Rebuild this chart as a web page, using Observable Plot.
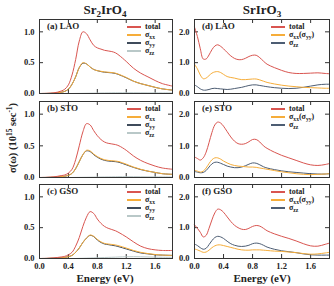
<!DOCTYPE html>
<html><head><meta charset="utf-8">
<script src="https://cdn.jsdelivr.net/npm/d3@7"></script>
<script src="https://cdn.jsdelivr.net/npm/@observablehq/plot@0.6"></script>
<style>
body{margin:0;background:#fff}
#root{position:relative;width:334px;height:286px;overflow:hidden;font-family:"Liberation Serif",serif;color:#222}
.t{position:absolute;white-space:nowrap;font-weight:bold;line-height:1}
.lg{position:absolute;font-weight:bold;font-size:8px;line-height:8px;color:#222}
.lg .row{display:flex;align-items:center;height:8px;white-space:nowrap}
.lg .sw{display:inline-block;height:1.4px;margin-right:4px}
sub{font-size:70%;vertical-align:-0.3em;line-height:0}
sup{font-size:70%;vertical-align:0.45em;line-height:0}
</style></head><body><div id="root"></div><script>
// ---------- data ----------
const energyL = [0,0.1,0.2,0.3,0.35,0.4,0.45,0.5,0.55,0.6,0.65,0.7,0.75,0.8,0.85,0.9,0.95,1.0,1.05,1.1,1.2,1.3,1.4,1.5,1.6,1.7,1.84];
// (a) Sr2IrO4 / LAO
const aTotal = [0,0.003,0.01,0.04,0.07,0.14,0.3,0.55,0.85,1.0,0.97,0.87,0.78,0.74,0.72,0.7,0.69,0.68,0.66,0.62,0.52,0.41,0.33,0.27,0.21,0.16,0.12];
const aXX    = [0,0.001,0.005,0.02,0.035,0.07,0.15,0.27,0.42,0.5,0.48,0.43,0.39,0.37,0.36,0.35,0.345,0.34,0.33,0.31,0.26,0.2,0.16,0.13,0.1,0.075,0.055];
const aYY    = [0,0.001,0.005,0.02,0.035,0.07,0.15,0.27,0.42,0.49,0.48,0.43,0.39,0.37,0.355,0.345,0.34,0.335,0.325,0.305,0.255,0.2,0.16,0.13,0.1,0.075,0.055];
const aZZ    = [0,0,0,0,0,0,0,0.001,0.002,0.003,0.004,0.005,0.006,0.007,0.008,0.009,0.01,0.011,0.012,0.012,0.012,0.012,0.011,0.01,0.01,0.01,0.01];
// (b) Sr2IrO4 / STO
const bTotal = [0,0.003,0.01,0.03,0.04,0.07,0.13,0.28,0.5,0.72,0.85,0.83,0.74,0.66,0.6,0.56,0.54,0.53,0.52,0.5,0.43,0.34,0.27,0.22,0.18,0.15,0.13];
const bXX    = [0,0.001,0.005,0.015,0.02,0.035,0.065,0.14,0.25,0.36,0.43,0.42,0.37,0.33,0.3,0.28,0.27,0.265,0.26,0.25,0.21,0.165,0.13,0.1,0.08,0.06,0.05];
const bYY    = [0,0.001,0.005,0.015,0.02,0.035,0.065,0.14,0.25,0.36,0.42,0.41,0.36,0.32,0.29,0.27,0.26,0.255,0.25,0.24,0.2,0.16,0.125,0.1,0.08,0.06,0.05];
const bZZ    = [0,0,0,0,0,0,0,0.001,0.002,0.003,0.004,0.005,0.006,0.007,0.008,0.009,0.01,0.011,0.012,0.013,0.013,0.013,0.012,0.011,0.01,0.01,0.01];
// (c) Sr2IrO4 / GSO
const cTotal = [0,0.003,0.01,0.025,0.035,0.06,0.1,0.2,0.34,0.52,0.67,0.76,0.73,0.64,0.57,0.52,0.49,0.47,0.45,0.42,0.35,0.27,0.2,0.16,0.14,0.13,0.13];
const cXX    = [0,0.001,0.005,0.012,0.017,0.03,0.05,0.1,0.17,0.26,0.33,0.38,0.36,0.31,0.27,0.245,0.235,0.228,0.22,0.205,0.17,0.13,0.1,0.08,0.065,0.055,0.05];
const cYY    = [0,0.001,0.005,0.012,0.017,0.03,0.05,0.1,0.17,0.26,0.33,0.375,0.355,0.3,0.26,0.235,0.225,0.215,0.205,0.19,0.155,0.12,0.09,0.075,0.06,0.055,0.05];
const cZZ    = [0,0,0,0,0,0,0,0,0.002,0.004,0.006,0.008,0.01,0.012,0.014,0.016,0.018,0.02,0.022,0.025,0.028,0.03,0.028,0.025,0.022,0.02,0.02];

const energyR = [0,0.04,0.08,0.12,0.16,0.2,0.24,0.28,0.32,0.36,0.4,0.45,0.5,0.55,0.6,0.65,0.7,0.75,0.8,0.85,0.9,0.95,1.0,1.1,1.2,1.3,1.4,1.5,1.6,1.7,1.8,1.86];
// (d) SrIrO3 / LAO
const dTotal = [2.15,1.85,1.45,1.12,1.12,1.25,1.42,1.54,1.58,1.53,1.45,1.33,1.22,1.14,1.1,1.1,1.14,1.2,1.24,1.24,1.16,1.05,0.95,0.84,0.75,0.68,0.65,0.65,0.66,0.67,0.65,0.64];
const dXX    = [0.95,0.8,0.6,0.48,0.5,0.58,0.66,0.7,0.71,0.68,0.62,0.55,0.52,0.5,0.47,0.45,0.45,0.46,0.47,0.47,0.44,0.4,0.36,0.31,0.27,0.24,0.22,0.2,0.19,0.18,0.17,0.17];
const dZZ    = [0.28,0.22,0.15,0.11,0.11,0.13,0.16,0.17,0.16,0.15,0.14,0.13,0.14,0.16,0.18,0.2,0.23,0.26,0.28,0.28,0.26,0.24,0.22,0.19,0.17,0.16,0.17,0.2,0.24,0.28,0.3,0.3];
// (e) SrIrO3 / STO
const eTotal = [0.65,0.6,0.55,0.62,0.8,1.1,1.42,1.66,1.75,1.72,1.62,1.45,1.28,1.15,1.07,1.05,1.07,1.13,1.2,1.2,1.12,1.0,0.92,0.8,0.7,0.62,0.54,0.46,0.4,0.38,0.41,0.44];
const eXX    = [0.23,0.2,0.17,0.2,0.3,0.44,0.56,0.62,0.62,0.58,0.52,0.46,0.41,0.38,0.36,0.35,0.34,0.33,0.33,0.32,0.3,0.28,0.26,0.22,0.18,0.15,0.12,0.1,0.09,0.1,0.11,0.12];
const eZZ    = [0.19,0.17,0.15,0.16,0.22,0.33,0.43,0.48,0.48,0.45,0.41,0.36,0.33,0.31,0.31,0.33,0.37,0.42,0.46,0.45,0.4,0.34,0.3,0.25,0.21,0.18,0.16,0.14,0.12,0.11,0.11,0.12];
// (f) SrIrO3 / GSO
const fTotal = [1.09,0.98,0.85,0.7,0.75,0.98,1.25,1.48,1.6,1.58,1.5,1.35,1.2,1.08,1.0,0.95,0.94,0.98,1.04,1.07,1.05,0.98,0.9,0.8,0.72,0.65,0.57,0.48,0.41,0.4,0.46,0.5];
const fXX    = [0.31,0.28,0.24,0.2,0.21,0.27,0.35,0.41,0.44,0.44,0.42,0.39,0.36,0.33,0.3,0.28,0.27,0.27,0.28,0.28,0.28,0.27,0.26,0.24,0.23,0.21,0.19,0.16,0.14,0.15,0.18,0.2];
const fZZ    = [0.47,0.42,0.35,0.3,0.33,0.45,0.58,0.68,0.72,0.7,0.65,0.56,0.48,0.43,0.4,0.39,0.4,0.43,0.48,0.5,0.48,0.43,0.37,0.3,0.25,0.22,0.19,0.15,0.12,0.11,0.11,0.11];

const xTicks = [0.4,0.8,1.2,1.6];
const xLabelTicks = [0,0.4,0.8,1.2,1.6];
const yTicksL = [0,0.5,1.0];
const yTicksR = [0,1.0,2.0];
const panelLabels = ["(a) LAO","(b) STO","(c) GSO","(d) LAO","(e) STO","(f) GSO"];
const titles = ["Sr<sub>2</sub>IrO<sub>4</sub>","SrIrO<sub>3</sub>"];
const legendL = ["total","σ<sub>xx</sub>","σ<sub>yy</sub>","σ<sub>zz</sub>"];
const legendR = ["total","σ<sub>xx</sub>(σ<sub>yy</sub>)","σ<sub>zz</sub>"];
const C = {total:"#d95550", xx:"#f6ad3a", yy:"#3f4b5b", zzL:"#b9c8c8", zzR:"#4d5d73"};

// ---------- layout ----------
const root = document.getElementById("root");
const rowsY = [[19,93],[101,177],[184,258]];
const colL = {x0:39,x1:172,xMax:1.84,yMax:1.2,yTicks:yTicksL,energy:energyL};
const colR = {x0:194,x1:329,xMax:1.86,yMax:2.4,yTicks:yTicksR,energy:energyR};

function addText(html, x, y, size, extra){
  const d = document.createElement("div");
  d.className = "t"; d.innerHTML = html;
  d.style.fontSize = size+"px";
  d.style.left = x+"px"; d.style.top = y+"px";
  if (extra) Object.assign(d.style, extra);
  root.appendChild(d); return d;
}

function panel(col, row, series, showX, label, legend, legX, legTextX){
  const [y0,y1] = rowsY[row];
  const fw = col.x1-col.x0, fh = y1-y0;
  const mL = 30, mR = 3, mT = 3, mB = showX ? 16 : 3;
  const yt = col.yTicks.filter(d=>d>0);
  const marks = [
    Plot.ruleX(xTicks, {x:d=>d, insetTop: fh-4, stroke:"#333", strokeWidth:1}),
    Plot.ruleX(xTicks, {x:d=>d, insetBottom: fh-4, stroke:"#333", strokeWidth:1}),
    Plot.ruleY(yt, {y:d=>d, insetRight: fw-4, stroke:"#333", strokeWidth:1}),
    Plot.ruleY(yt, {y:d=>d, insetLeft: fw-4, stroke:"#333", strokeWidth:1}),
    Plot.axisY(col.yTicks, {tickSize:0, tickPadding:5, tickFormat:d3.format(".1f"), label:null})
  ];
  if (showX) marks.push(Plot.axisX(xLabelTicks, {tickSize:0, tickPadding:4, tickFormat:d3.format(".1f"), label:null}));
  series.slice().reverse().forEach(s => {
    const data = col.energy.map((E,i)=>({E, v:s.values[i]}));
    marks.push(Plot.line(data, {x:"E", y:"v", stroke:s.color, strokeWidth:1, curve:"catmull-rom"}));
  });
  marks.push(Plot.frame({stroke:"#333", strokeWidth:1}));
  const svg = Plot.plot({
    width: mL+fw+mR, height: mT+fh+mB,
    marginLeft:mL, marginRight:mR, marginTop:mT, marginBottom:mB,
    x:{domain:[0,col.xMax], axis: showX ? undefined : null, label:null},
    y:{domain:[0,col.yMax], label:null},
    style:{fontFamily:"Liberation Serif, serif", fontSize:"8.5px", fontWeight:"bold", color:"#222", background:"transparent", overflow:"visible"},
    marks
  });
  svg.style.position = "absolute";
  svg.style.left = (col.x0-mL)+"px";
  svg.style.top = (y0-mT)+"px";
  root.appendChild(svg);
  addText(label, col.x0+8, y0+3, 9);
  const lg = document.createElement("div");
  lg.className = "lg";
  lg.style.left = legX+"px"; lg.style.top = (y0+4)+"px";
  legend.forEach((t,i)=>{
    const r = document.createElement("div"); r.className = "row";
    const sw = document.createElement("span"); sw.className = "sw";
    sw.style.width = (legTextX-legX-4)+"px"; sw.style.background = series[i].color;
    const tx = document.createElement("span"); tx.innerHTML = t;
    r.appendChild(sw); r.appendChild(tx); lg.appendChild(r);
  });
  root.appendChild(lg);
}

const leftSeries = [[aTotal,aXX,aYY,aZZ],[bTotal,bXX,bYY,bZZ],[cTotal,cXX,cYY,cZZ]];
const rightSeries = [[dTotal,dXX,dZZ],[eTotal,eXX,eZZ],[fTotal,fXX,fZZ]];
leftSeries.forEach((s,r)=>{
  panel(colL, r, [
    {values:s[0], color:C.total},{values:s[1], color:C.xx},{values:s[2], color:C.yy},{values:s[3], color:C.zzL}
  ], r===2, panelLabels[r], legendL, 127, 145);
});
rightSeries.forEach((s,r)=>{
  panel(colR, r, [
    {values:s[0], color:C.total},{values:s[1], color:C.xx},{values:s[2], color:C.zzR}
  ], r===2, panelLabels[r+3], legendR, 271, 289);
});

// titles and axis titles
addText(titles[0], 105, 3, 13, {transform:"translateX(-50%)"});
addText(titles[1], 262, 3, 13, {transform:"translateX(-50%)"});
addText("Energy (eV)", 105, 273, 11, {transform:"translateX(-50%)"});
addText("Energy (eV)", 262, 273, 11, {transform:"translateX(-50%)"});
addText("σ(ω) (10<sup>15</sup> sec<sup>-1</sup>)", 13, 138, 10.5, {transform:"translate(-50%,-50%) rotate(-90deg)"});
</script></body></html>
